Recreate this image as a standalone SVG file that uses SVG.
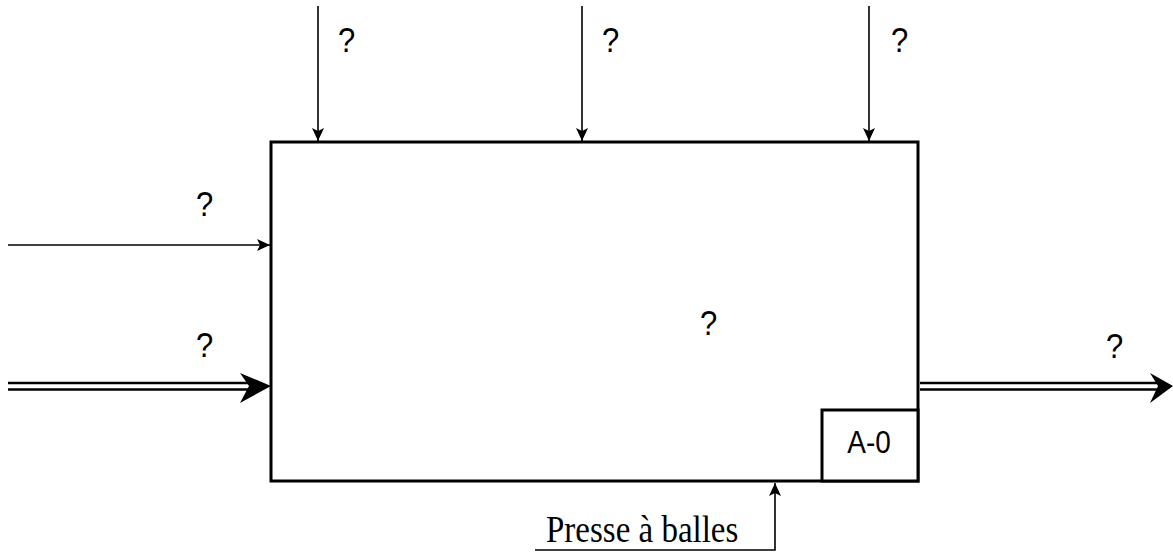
<svg xmlns="http://www.w3.org/2000/svg" width="1173" height="553" viewBox="0 0 1173 553">
<style>
.q{font-family:"Liberation Sans",Arial,sans-serif;font-size:31px;fill:#000}
.a0{font-family:"Liberation Sans",Arial,sans-serif;font-size:28px;fill:#000}
.lbl{font-family:"Liberation Serif","Times New Roman",serif;font-size:33px;fill:#000}
.thin{stroke:#000;stroke-width:1.6;fill:none}
.dbl{stroke:#000;stroke-width:2.4;fill:none}
.box{stroke:#000;stroke-width:3;fill:#fff}
</style>
<defs>
<marker id="ah" markerWidth="14" markerHeight="12" refX="13" refY="6" orient="auto" markerUnits="userSpaceOnUse">
<path d="M0,0 L13,6 L0,12 L3,6 Z" fill="#000"/>
</marker>
</defs>
<rect width="1173" height="553" fill="#fff"/>
<g id="activity">
<rect class="box" x="271" y="142" width="647" height="339"/>
<text class="q" transform="translate(700,335) scale(1,1.15)">?</text>
</g>
<g id="node-ref">
<rect class="box" x="822" y="410" width="96" height="71"/>
<text class="a0" text-anchor="middle" transform="translate(869,453) scale(1,1.1)">A-0</text>
</g>
<g id="connectors">
<line class="thin" x1="318" y1="6" x2="318" y2="141" marker-end="url(#ah)"/>
<line class="thin" x1="582" y1="6" x2="582" y2="141" marker-end="url(#ah)"/>
<line class="thin" x1="869" y1="6" x2="869" y2="141" marker-end="url(#ah)"/>
<line class="thin" x1="8" y1="245" x2="270" y2="245" marker-end="url(#ah)"/>
<polyline class="thin" points="535,550 775,550 775,483" marker-end="url(#ah)"/>
<line class="dbl" x1="8" y1="383" x2="250" y2="383"/>
<line class="dbl" x1="8" y1="389.5" x2="250" y2="389.5"/>
<path d="M240,373 L271,386 L240,403 L249,386 Z" fill="#000"/>
<line class="dbl" x1="920" y1="383" x2="1158" y2="383"/>
<line class="dbl" x1="920" y1="389.5" x2="1158" y2="389.5"/>
<path d="M1150,373 L1173,386 L1150,403 L1158,386 Z" fill="#000"/>
</g>
<g id="labels">
<text class="q" transform="translate(338,52) scale(1,1.15)">?</text>
<text class="q" transform="translate(602,52) scale(1,1.15)">?</text>
<text class="q" transform="translate(891,52) scale(1,1.15)">?</text>
<text class="q" transform="translate(196,216) scale(1,1.15)">?</text>
<text class="q" transform="translate(196,357) scale(1,1.15)">?</text>
<text class="q" transform="translate(1106,358) scale(1,1.15)">?</text>
<text class="lbl" transform="translate(546,542) scale(1,1.12)">Presse à balles</text>
</g>
</svg>
